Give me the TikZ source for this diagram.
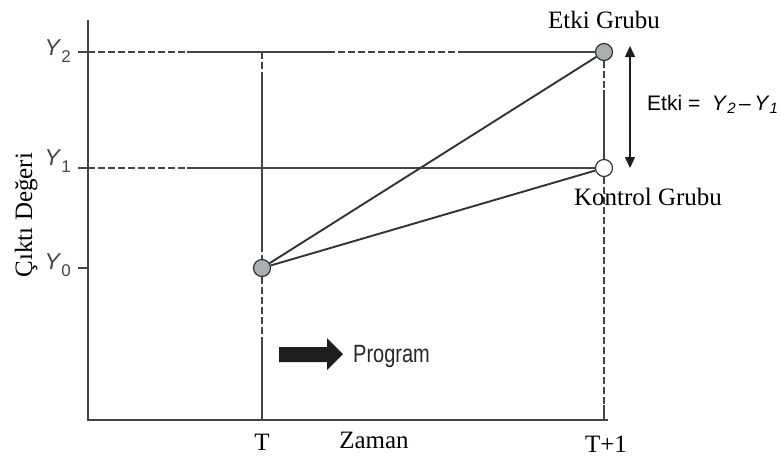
\documentclass[tikz,border=0pt]{standalone}
\usepackage{fontspec}
\setmainfont{Liberation Serif}
\setsansfont{Liberation Sans}
\usetikzlibrary{arrows.meta}
\definecolor{axisgray}{HTML}{444444}
\definecolor{dotline}{HTML}{333333}
\definecolor{dotgray}{HTML}{A9AEB1}
\definecolor{ytext}{HTML}{3F4756}
\definecolor{arrowblack}{HTML}{1E1E1E}
\begin{document}
\begin{tikzpicture}[x=1pt,y=-1pt,
  axis/.style={draw=axisgray, line width=1.8pt},
  guide/.style={draw=axisgray, line width=1.4pt},
  dsh/.style={dash pattern=on 7pt off 3pt},
  trend/.style={draw=dotline, line width=1.9pt},
  dot/.style={circle, draw=dotline, line width=1.2pt, minimum size=17pt, inner sep=0pt},
  lbl/.style={font=\fontsize{25}{25}\selectfont, inner sep=0pt},
  ylbl/.style={font=\sffamily\fontsize{23}{23}\selectfont, text=ytext, inner sep=0pt},
  eqlbl/.style={font=\sffamily\fontsize{21}{21}\selectfont, text=black, inner sep=0pt},
  dbl/.style={draw=arrowblack, line width=1.4pt, {Triangle[length=11pt,width=10pt]}-{Triangle[length=11pt,width=10pt]}}
]
\useasboundingbox (0,0) rectangle (781,459);
% axes
\coordinate (O) at (88,420);
\coordinate (ytop) at (88,20);
\coordinate (xend) at (608,420);
\draw[axis] (ytop) -- (O) -- (xend);
% ticks
\draw[axis] (78,52) -- (88,52);
\draw[axis] (78,168) -- (88,168);
\draw[axis] (78,268) -- (88,268);
% points
\node[dot, fill=dotgray] (e) at (604,52) {};
\node[dot, fill=white] (k) at (604,168) {};
\node[dot, fill=dotgray] (y0) at (262,268) {};
% guide lines at Y2
\draw[guide, dsh] (88,52) -- (187,52);
\draw[guide] (187,52) -- (328,52);
\draw[guide, dsh] (328,52) -- (460,52);
\draw[guide] (460,52) -- (e.west);
% guide line at Y1
\draw[guide, dsh] (88,168) -- (187,168);
\draw[guide] (187,168) -- (k.west);
% vertical at T
\draw[guide, dsh] (262,52) -- (262,72);
\draw[guide] (262,72) -- (262,245);
\draw[guide, dsh] (262,245) -- (y0.north);
\draw[guide, dsh] (y0.south) -- (262,343);
\draw[guide] (262,343) -- (262,420);
% vertical at T+1
\draw[guide, dsh] (e.south) -- (604,90);
\draw[guide] (604,90) -- (k.north);
\draw[guide, dsh] (k.south) -- (604,405);
\draw[guide] (604,405) -- (604,420);
% trend lines
\draw[trend] (y0) -- (e);
\draw[trend] (y0) -- (k);
% double arrow
\coordinate (dtop) at (630,46);
\coordinate (dbot) at (630,168);
\draw[dbl] (dtop) -- (dbot);
% program arrow
\fill[arrowblack] (279,347) -- (327,347) -- (327,338) -- (343,354) -- (327,370) -- (327,362) -- (279,362) -- cycle;
\node[font=\sffamily\fontsize{25}{25}\selectfont, text=black!85, inner sep=0pt, anchor=base west] (prog) at (353,362) {\scalebox{0.8}[1]{Program}};
% axis value labels
\node[ylbl, anchor=base east] (y2l) at (71,55) {\textit{Y}\raisebox{-7pt}{\fontsize{17}{17}\selectfont 2}};
\node[ylbl, anchor=base east] (y1l) at (71,165) {\textit{Y}\raisebox{-7pt}{\fontsize{17}{17}\selectfont 1}};
\node[ylbl, anchor=base east] (y0l) at (71,269) {\textit{Y}\raisebox{-7pt}{\fontsize{17}{17}\selectfont 0}};
\node[lbl, anchor=base] (tl) at (262,450) {T};
\node[lbl, anchor=base] (t1l) at (606,452) {T+1};
\node[lbl, anchor=base] (zl) at (374,448) {Zaman};
\node[lbl, rotate=90, anchor=base] (cl) at (32,215) {Çıktı Değeri};
\node[lbl, anchor=base] (el) at (604,28) {Etki Grubu};
\node[lbl, anchor=base] (kl) at (648,205) {Kontrol Grubu};
\node[eqlbl, anchor=base west] (eq) at (647,110) {Etki =\ \ \textit{Y}\raisebox{-3pt}{\fontsize{15}{15}\selectfont\textit{2}}\,–\,\textit{Y}\raisebox{-3pt}{\fontsize{15}{15}\selectfont\textit{1}}};
\end{tikzpicture}
\end{document}
